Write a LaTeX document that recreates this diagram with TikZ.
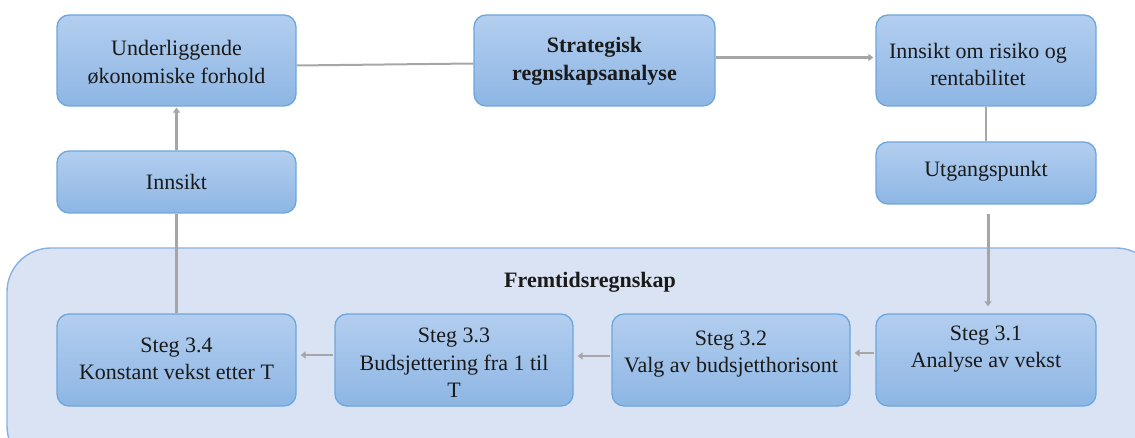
\documentclass[tikz,border=0pt]{standalone}
\usepackage{fontspec}
\setmainfont{LiberationSerif}[Extension=.ttf,UprightFont=*-Regular,BoldFont=*-Bold]
\newfontfamily\tnr{LiberationSerif}[Extension=.ttf,UprightFont=*-Regular,BoldFont=*-Bold]
\usetikzlibrary{arrows.meta,calc}
\definecolor{boxtop}{HTML}{B3CEEF}
\definecolor{boxbot}{HTML}{8DB6E4}
\definecolor{boxedge}{HTML}{6DA6DD}
\definecolor{panelfill}{HTML}{DAE3F3}
\definecolor{paneledge}{HTML}{88B2E2}
\definecolor{conn}{HTML}{A6A6A6}
\definecolor{ink}{HTML}{1A1A1A}
\begin{document}
\begin{tikzpicture}[x=1pt,y=-1pt,
  box/.style={draw=boxedge,line width=1.3pt,rounded corners=12pt,
    top color=boxtop,bottom color=boxbot,minimum width=#1,inner sep=0pt},
  box/.default=239pt,
  txt/.style={text=ink,align=center,inner sep=0pt,
    font=\tnr\fontsize{22}{27.5}\selectfont},
  btxt/.style={txt,font=\tnr\bfseries\fontsize{22}{27.5}\selectfont},
  ln/.style={draw=conn,line width=2.5pt},
  arr/.style={ln,-{Triangle[length=5pt,width=7pt]}}]
\useasboundingbox (0,0) rectangle (1135,438);
% forecasting panel
\path[draw=paneledge,fill=panelfill,line width=1.4pt,rounded corners=44pt]
  (7,248) rectangle (1160,470);
\node[btxt] (panel) at (590,282) {Fremtidsregnskap};
% boxes
\node[box,minimum height=91pt] (und) at (176.5,60.5) {};
\node[box,minimum height=62pt] (ins) at (176.5,182) {};
\node[box=241pt,minimum height=91pt] (strat) at (594.5,60.5) {};
\node[box=220pt,minimum height=91pt] (risk) at (986,60.5) {};
\node[box=220pt,minimum height=62pt] (utg) at (986,173) {};
\node[box,minimum height=92pt] (s34) at (176.5,360) {};
\node[box=238pt,minimum height=92pt] (s33) at (454,360) {};
\node[box=238pt,minimum height=92pt] (s32) at (731,360) {};
\node[box=220pt,minimum height=92pt] (s31) at (986,360) {};
% labels
\node[txt] (undt) at ($(und)+(0,2)$) {Underliggende\\økonomiske forhold};
\node[txt] (inst) at (ins) {Innsikt};
\node[btxt] (stratt) at ($(strat)+(0,1)$) {Strategisk\\regnskapsanalyse};
\node[txt] (riskt) at ($(risk)+(-8,4)$) {Innsikt om risiko og\\rentabilitet};
\node[txt] (utgt) at ($(utg)+(0,-2)$) {Utgangspunkt};
\node[txt] (s34t) at ($(s34)+(0,-1)$) {Steg 3.4\\Konstant vekst etter T};
\node[txt] (s33t) at ($(s33)+(0,3)$) {Steg 3.3\\Budsjettering fra 1 til\\T};
\node[txt] (s32t) at ($(s32)+(0,-6)$) {Steg 3.2\\Valg av budsjetthorisont};
\node[txt] (s31t) at ($(s31)+(0,-11)$) {Steg 3.1\\Analyse av vekst};
% connectors
\draw[ln,line width=2pt] ($(und.east)+(0,5)$) -- ($(strat.west)+(0,3)$);
\draw[arr,line width=3pt,shorten >=2pt] ($(strat.east)+(0,-3)$) -- ($(risk.west)+(0,-3)$);
\draw[ln,line width=1.5pt] (risk.south) -- (utg.north);
\draw[arr,line width=3pt,shorten <=9pt,shorten >=7pt] ($(utg.south)+(2,0)$) -- ($(s31.north)+(2,0)$);
\draw[arr,shorten <=1pt,shorten >=4pt] ($(s31.west)+(0,-7)$) -- ($(s32.east)+(0,-7)$);
\draw[arr,shorten <=1pt,shorten >=4pt] ($(s32.west)+(0,-4)$) -- ($(s33.east)+(0,-4)$);
\draw[arr,shorten <=1pt,shorten >=4pt] ($(s33.west)+(0,-5)$) -- ($(s34.east)+(0,-5)$);
\draw[ln] (s34.north) -- (ins.south);
\draw[arr,shorten >=1pt] (ins.north) -- (und.south);
\end{tikzpicture}
\end{document}
